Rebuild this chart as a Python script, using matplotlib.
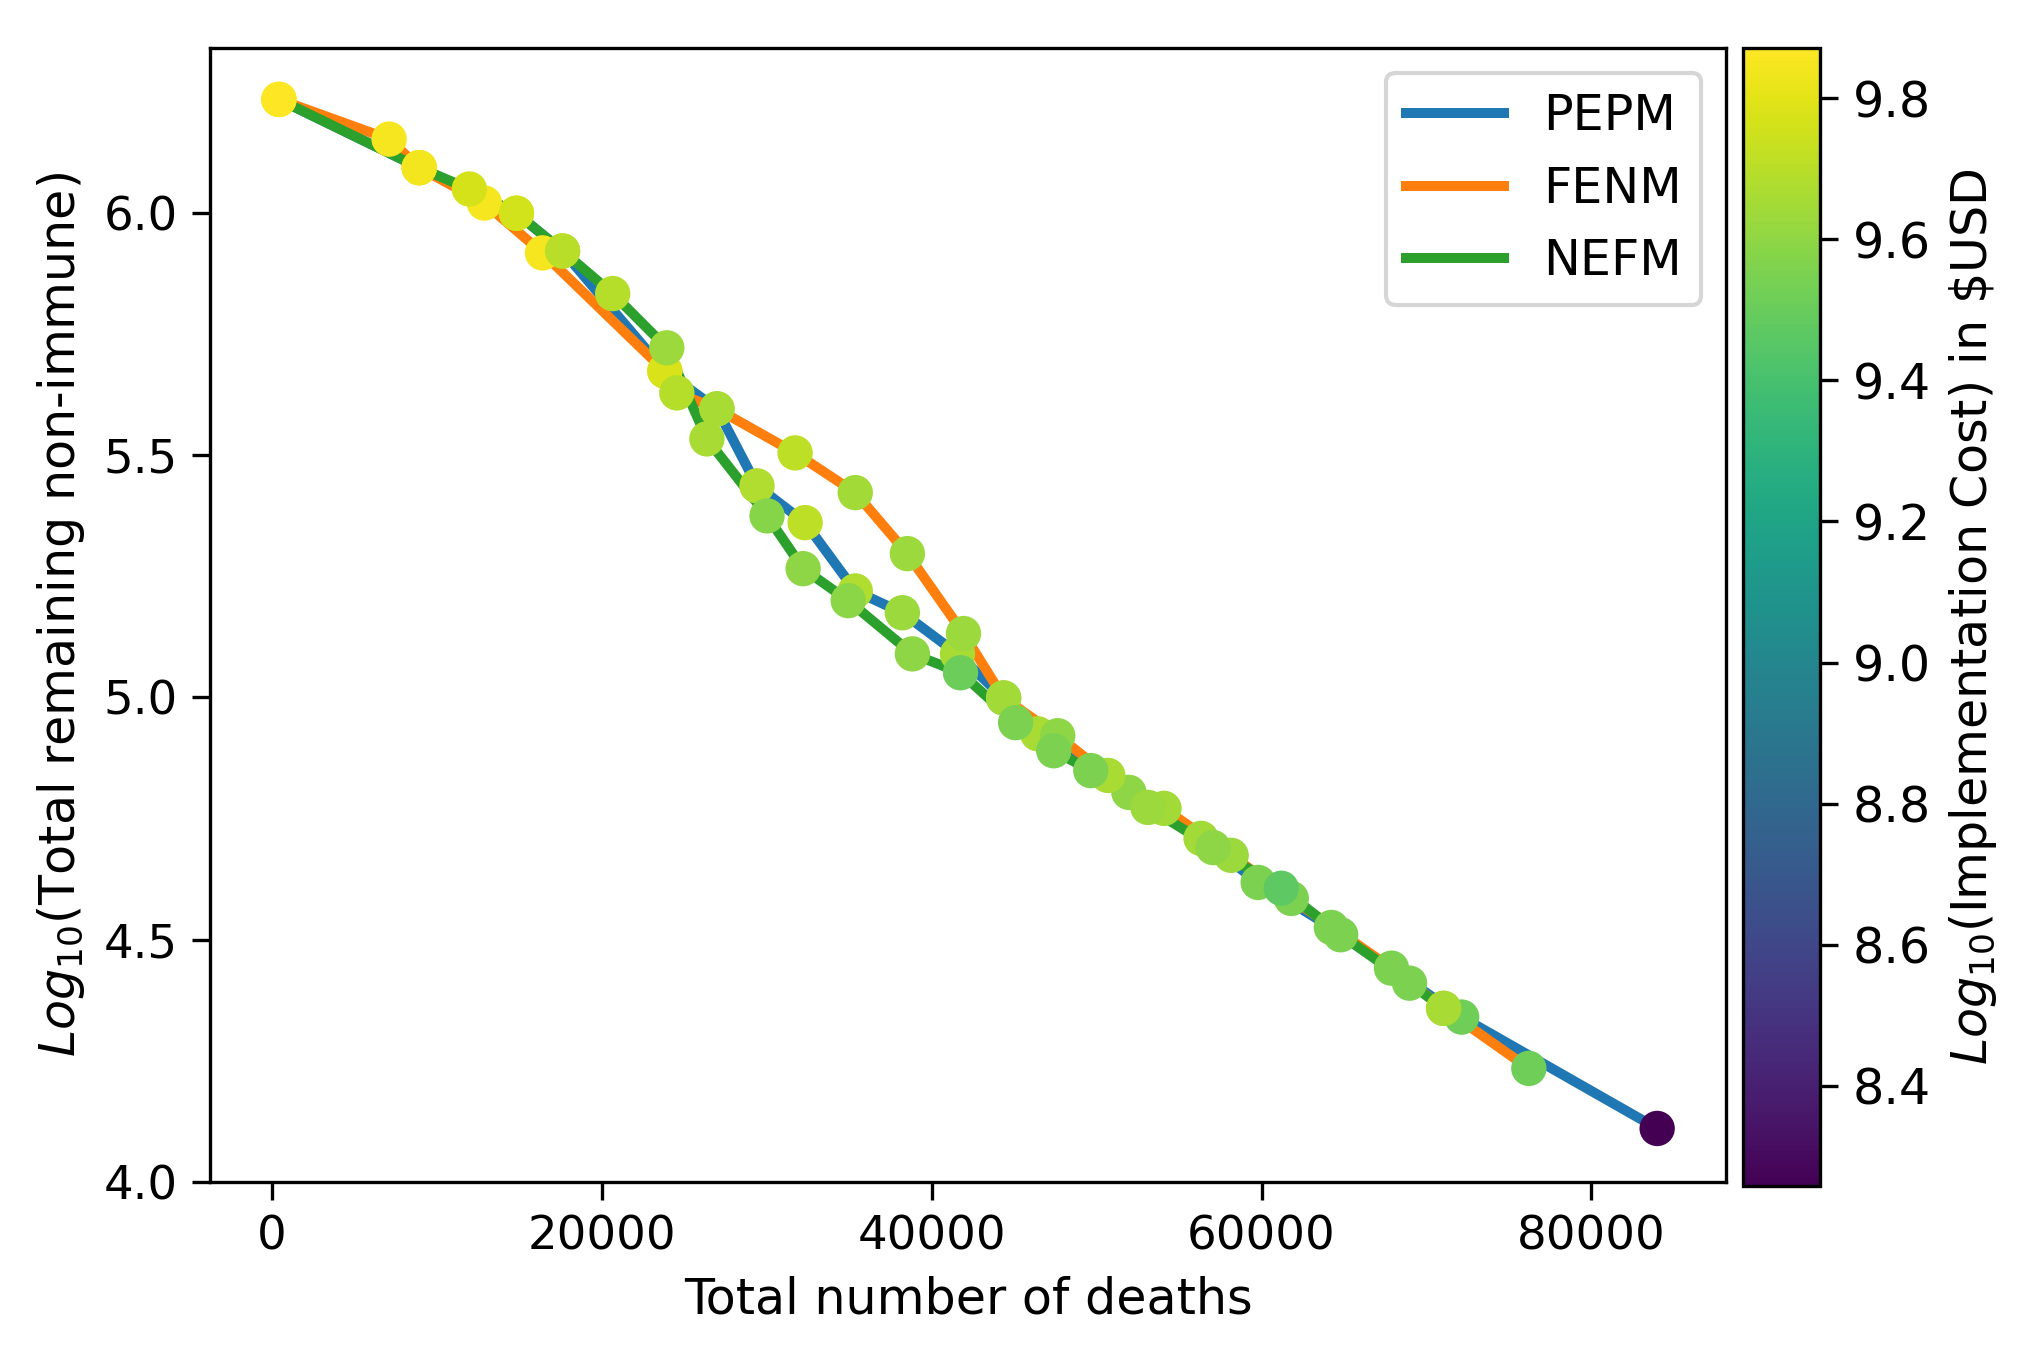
import matplotlib
matplotlib.use("Agg")
import matplotlib.pyplot as plt

OUTPUT_FILE = "out.png"

# PEPM
pepm_deaths = [410, 8918, 14815, 17611, 23811, 26973, 29404, 32322, 35362, 38219,
               41562, 44359, 46426, 51957, 56334, 59799, 64237, 72140, 83995]
pepm_nonimmune = [6.235, 6.094, 6.000, 5.922, 5.674, 5.596, 5.437, 5.361, 5.220, 5.175,
                  5.090, 4.999, 4.925, 4.804, 4.709, 4.618, 4.525, 4.340, 4.110]
pepm_cost = [9.871, 9.84, 9.76, 9.70, 9.78, 9.66, 9.68, 9.71, 9.68, 9.63,
             9.66, 9.645, 9.66, 9.60, 9.645, 9.55, 9.55, 9.515, 8.258]

# FENM
fenm_deaths = [410, 7094, 8918, 12869, 16395, 23811, 24541, 26973, 31714, 35362,
               38523, 41927, 44359, 47642, 50681, 54085, 58158, 61805, 67884, 71046, 76213]
fenm_nonimmune = [6.235, 6.153, 6.094, 6.021, 5.918, 5.674, 5.629, 5.596, 5.505, 5.423,
                  5.297, 5.132, 4.999, 4.921, 4.839, 4.771, 4.674, 4.585, 4.441, 4.358, 4.234]
fenm_cost = [9.871, 9.85, 9.84, 9.85, 9.85, 9.78, 9.69, 9.66, 9.71, 9.645,
             9.63, 9.63, 9.645, 9.60, 9.66, 9.645, 9.63, 9.55, 9.55, 9.66, 9.515]

# NEFM
nefm_deaths = [410, 8918, 11957, 14815, 17611, 20651, 23933, 26365, 30012, 32201,
               34936, 38827, 41745, 45088, 47398, 49647, 53112, 57064, 61198, 64800,
               68979, 71046]
nefm_nonimmune = [6.235, 6.094, 6.050, 6.000, 5.922, 5.834, 5.722, 5.534, 5.375, 5.266,
                  5.200, 5.090, 5.051, 4.948, 4.890, 4.849, 4.773, 4.690, 4.606, 4.510,
                  4.410, 4.358]
nefm_cost = [9.871, 9.84, 9.77, 9.76, 9.70, 9.69, 9.63, 9.66, 9.58, 9.60,
             9.59, 9.60, 9.51, 9.55, 9.55, 9.55, 9.63, 9.60, 9.47, 9.55,
             9.55, 9.66]

series = [
    ("PEPM", "tab:blue", pepm_deaths, pepm_nonimmune, pepm_cost),
    ("FENM", "tab:orange", fenm_deaths, fenm_nonimmune, fenm_cost),
    ("NEFM", "tab:green", nefm_deaths, nefm_nonimmune, nefm_cost),
]

all_cost = pepm_cost + fenm_cost + nefm_cost
vmin, vmax = min(all_cost), max(all_cost)

fig = plt.figure(figsize=(2041 / 300, 1366 / 300), dpi=300)
ax = fig.add_axes([0.1029, 0.1349, 0.7428, 0.830])
cax = fig.add_axes([0.8540, 0.1318, 0.0377, 0.8330])

# lines first, dots on top
for name, color, x, y, c in series:
    ax.plot(x, y, color=color, linewidth=2.4, label=name)

for name, color, x, y, c in series:
    sc = ax.scatter(x, y, c=c, cmap="viridis", vmin=vmin, vmax=vmax,
                    s=72, zorder=3, linewidths=0)

ax.set_ylim(bottom=4.0)
ax.set_xlabel("Total number of deaths", fontsize=11.8)
ax.set_ylabel(r"$Log_{10}$(Total remaining non-immune)", fontsize=11.8)
ax.tick_params(labelsize=11.2, length=4.3)
ax.legend(loc="upper right", fontsize=11.8)

cbar = fig.colorbar(sc, cax=cax)
cbar.set_label(r"$Log_{10}$(Implementation Cost) in \$USD", fontsize=11.8)
cbar.ax.tick_params(labelsize=11.8, length=4.3)

fig.savefig(OUTPUT_FILE, dpi=300)
